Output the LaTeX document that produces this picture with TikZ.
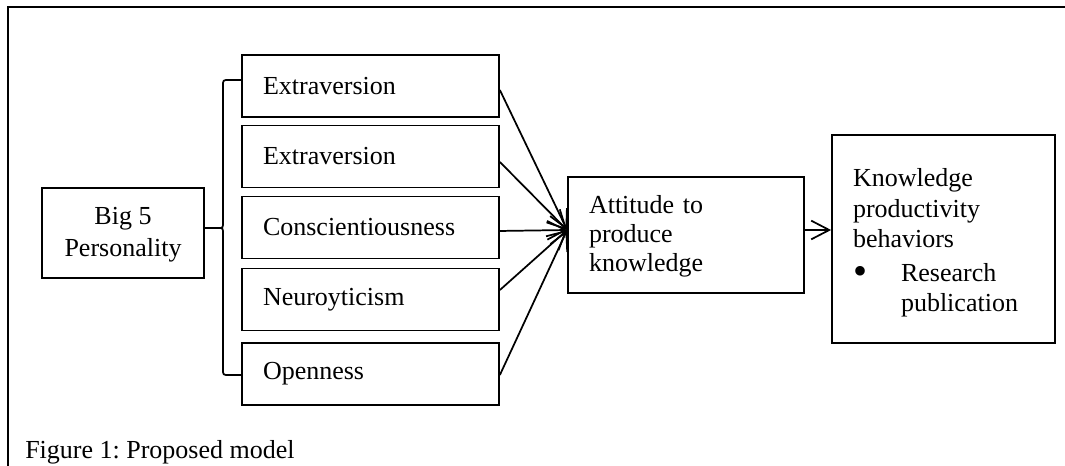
\documentclass[tikz,border=0pt]{standalone}
\usepackage{fontspec}
\setmainfont{Liberation Serif}
\usetikzlibrary{arrows.meta}
\frenchspacing
\begin{document}
\begin{tikzpicture}[x=0.75pt,y=-0.75pt,
  every node/.style={font=\fontsize{19.5}{23}\selectfont},
  boxnode/.style={draw, line width=1.3pt, inner sep=0pt},
  trait/.style={boxnode, minimum width=192.75pt, minimum height=46.5pt, text width=161.25pt, inner xsep=15.75pt, align=left},
  conn/.style={line width=1.3pt},
  arr/.style={conn, -{Straight Barb[length=13.5pt,width=14pt,line width=1.3pt]}}
]
\useasboundingbox (0,0) rectangle (1065,465);
\clip (0,0) rectangle (1065,465);
% outer frame
\draw[line width=1.5pt] (8,480) -- (8,7) -- (1080,7);

\node[boxnode, minimum width=121.5pt, minimum height=67.5pt, align=center, font=\fontsize{19.5}{24}\selectfont] (big) at (123,233) {\rule{0pt}{16pt}Big 5\\Personality};
\node[trait] (t1) at (370.5,86) {Extraversion};
\node[trait] (t2) at (370.5,156.5) {Extraversion};
\node[trait] (t3) at (370.5,227.5) {Conscientiousness};
\node[trait] (t4) at (370.5,299.5) {Neuroyticism};
\node[trait] (t5) at (370.5,374) {Openness};

\node[boxnode, minimum width=177pt, minimum height=87pt, text width=145.5pt, inner xsep=15.75pt, align=left, font=\fontsize{19.5}{21.75}\selectfont] (att) at (686,235) {\rule{0pt}{15pt}Attitude to\\produce\\knowledge};

\node[boxnode, minimum width=167.25pt, minimum height=156pt, text width=135.75pt, inner xsep=15.75pt, align=left] (know) at (943.5,239) {\rule{0pt}{19.5pt}Knowledge\\productivity\\behaviors\\[2pt]\makebox[36pt][l]{\raisebox{-2.5pt}{\fontsize{30}{23}\selectfont\textbullet}}Research\\\hspace*{36pt}publication};

\node[anchor=base west, inner sep=0pt] (cap) at (25,458) {Figure 1: Proposed model};

% brace
\draw[conn] ([yshift=3.75pt]big.east) -- (218,228) .. controls (223,228) .. (223,222) -- (223,86) .. controls (223,80) .. (229,80) -- ([yshift=4.5pt]t1.west);
\draw[conn] (218,228) .. controls (223,228) .. (223,234) -- (223,369) .. controls (223,375) .. (229,375) -- ([yshift=-0.75pt]t5.west);

% arrows
\coordinate (tip) at ([yshift=3.75pt]att.west);
\draw[arr] ([yshift=-3pt]t1.east) -- (tip);
\draw[arr] ([yshift=-4.1pt]t2.east) -- (tip);
\draw[arr] ([yshift=-2.6pt]t3.east) -- (tip);
\draw[arr] ([yshift=7.1pt]t4.east) -- (tip);
\draw[arr] ([yshift=-0.75pt]t5.east) -- (tip);
\draw[arr] ([yshift=3.75pt]att.east) -- ([yshift=6.75pt]know.west);
\end{tikzpicture}
\end{document}
